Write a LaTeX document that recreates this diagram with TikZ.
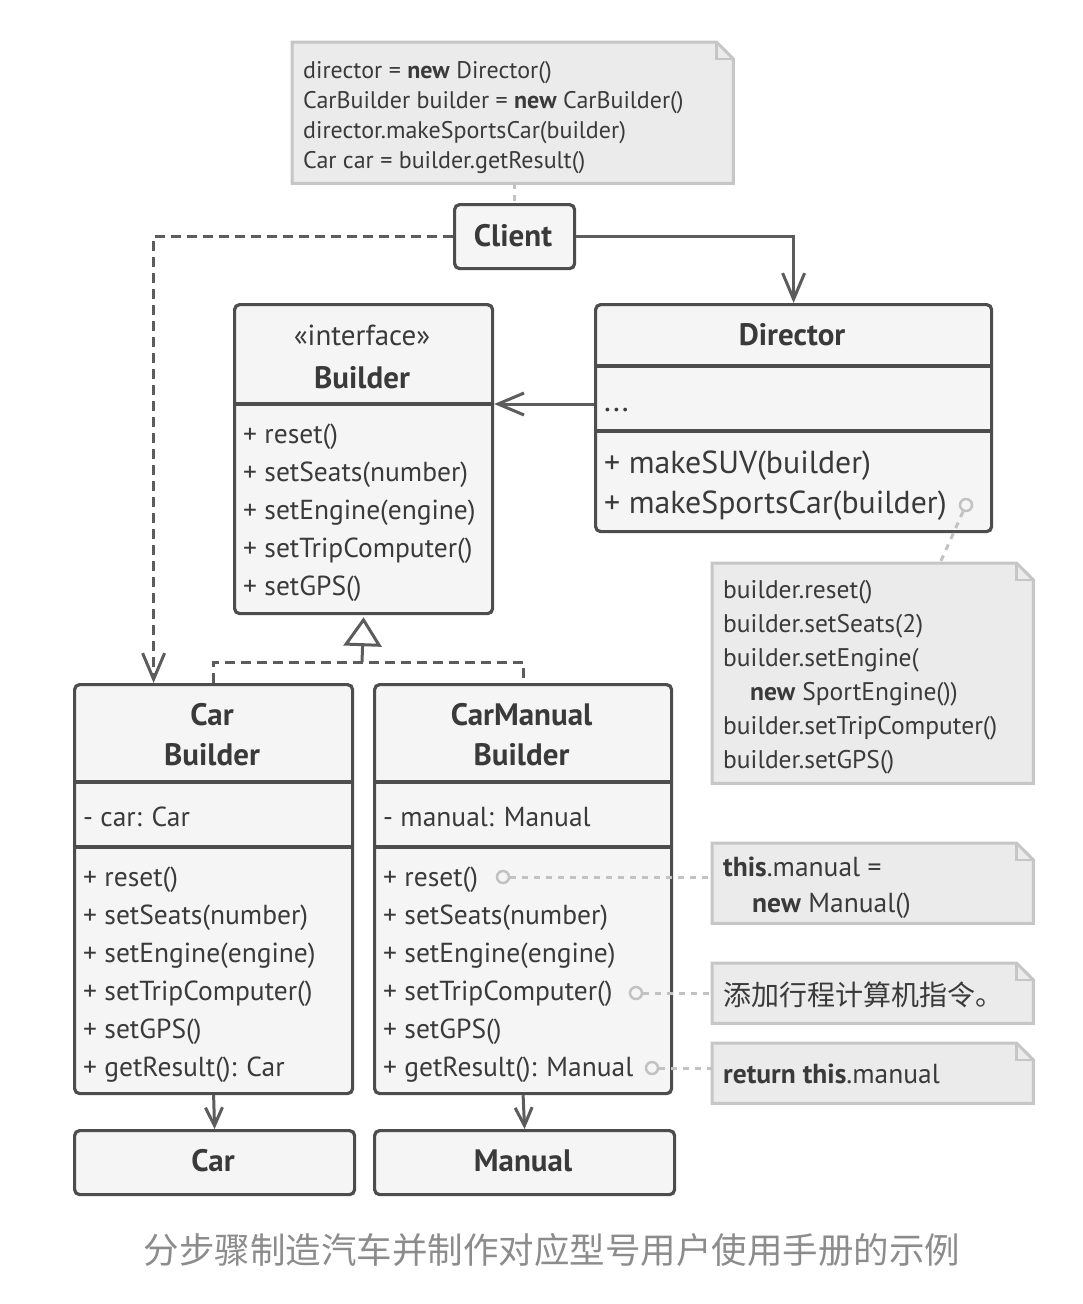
\documentclass[tikz,border=0pt]{standalone}
\usepackage{fontspec}
\setmainfont{PT Sans}
\newfontfamily\cjk{Noto Sans CJK SC}
\usetikzlibrary{arrows.meta}
\definecolor{boxline}{HTML}{4D4D4D}
\definecolor{connc}{HTML}{5C5C5C}
\definecolor{boxfill}{HTML}{F5F5F5}
\definecolor{txt}{HTML}{3A3A3A}
\definecolor{notefill}{HTML}{EBEBEB}
\definecolor{noteline}{HTML}{C6C6C6}
\definecolor{dotc}{HTML}{C2C2C2}
\definecolor{capc}{HTML}{8C8C8C}
\newcommand\drawnote[1]{%
  \fill[notefill] (#1.north west) -- ([xshift=-17pt]#1.north east) -- ([yshift=-17pt]#1.north east) -- (#1.south east) -- (#1.south west) -- cycle;
  \draw[noteline, line width=3pt, line join=miter] (#1.north west) -- ([xshift=-17pt]#1.north east) -- ([yshift=-17pt]#1.north east) -- (#1.south east) -- (#1.south west) -- cycle;
  \draw[noteline, line width=2.5pt, line join=miter] ([xshift=-17pt]#1.north east) -- ([xshift=-17pt,yshift=-17pt]#1.north east) -- ([yshift=-17pt]#1.north east);}
\begin{document}
\begin{tikzpicture}[x=1pt,y=-1pt,
  umlbox/.style={draw=boxline, fill=boxfill, line width=3.2pt, rounded corners=5pt, inner sep=0pt, anchor=north west},
  notenode/.style={inner sep=0pt, anchor=north west},
  divider/.style={draw=boxline, line width=4.5pt},
  tl/.style={text=txt, inner sep=0pt, anchor=base west},
  mt/.style={tl, font=\fontsize{27.5}{30}\selectfont},
  dm/.style={tl, font=\fontsize{31.8}{34}\selectfont},
  nt/.style={tl, font=\fontsize{24}{26}\selectfont},
  nt2/.style={tl, font=\fontsize{25.5}{28}\selectfont},
  nt3/.style={tl, font=\fontsize{27.5}{30}\selectfont},
  ttl/.style={text=txt, inner sep=0pt, anchor=base, font=\bfseries\fontsize{31}{34}\selectfont},
  conn/.style={draw=connc, line width=3pt},
  dotline/.style={draw=dotc, line width=3pt, dash pattern=on 6pt off 6pt},
  pin/.style={circle, draw=dotc, line width=2.5pt, minimum size=12pt, inner sep=0pt, fill=boxfill},
  openarrow/.style={-{Straight Barb[length=26pt,width=22pt,line width=3pt]}},
  smallarrow/.style={-{Straight Barb[length=18pt,width=17pt,line width=3pt]}}
]
\path[use as bounding box] (0,0) rectangle (1082,1304);

% ---------- top note ----------
\node[notenode, minimum width=441pt, minimum height=141pt] (note1) at (292,42) {};
\drawnote{note1}
\node[nt] (n1a) at (303,78) {director = \textbf{new} Director()};
\node[nt] (n1b) at (303,108) {CarBuilder builder = \textbf{new} CarBuilder()};
\node[nt] (n1c) at (303,138) {director.makeSportsCar(builder)};
\node[nt] (n1d) at (303,168) {Car car = builder.getResult()};

% ---------- client ----------
\node[umlbox, minimum width=120pt, minimum height=64pt] (client) at (453,203) {};
\node[ttl] (clientt) at (513,246) {Client};
\draw[dotline] (note1.south -| client.north) -- (client.north);

% ---------- builder interface ----------
\node[umlbox, minimum width=258pt, minimum height=309pt] (builder) at (233,303) {};
\draw[divider] (builder.west |- 0,404) -- (builder.east |- 0,404);
\node[tl, anchor=base, font=\fontsize{29}{32}\selectfont] (bst) at (362,345) {«interface»};
\node[ttl] (bnm) at (362,388) {Builder};
\node[mt] (b1) at (243,443) {+ reset()};
\node[mt] (b2) at (243,481) {+ setSeats(number)};
\node[mt] (b3) at (243,519) {+ setEngine(engine)};
\node[mt] (b4) at (243,557) {+ setTripComputer()};
\node[mt] (b5) at (243,595) {+ setGPS()};

% ---------- director ----------
\node[umlbox, minimum width=396pt, minimum height=227pt] (director) at (594,303) {};
\draw[divider] (director.west |- 0,366) -- (director.east |- 0,366);
\draw[divider] (director.west |- 0,431) -- (director.east |- 0,431);
\node[ttl] (dnm) at (792,345) {Director};
\node[dm] (dfield) at (604,411) {...};
\node[dm] (d1) at (604,473) {+ makeSUV(builder)};
\node[dm] (d2) at (604,513) {+ makeSportsCar(builder)};
\node[pin] (pin0) at (966,505) {};

% ---------- director note ----------
\node[notenode, minimum width=321pt, minimum height=220pt] (note2) at (712,563) {};
\drawnote{note2}
\node[nt2] (n2a) at (723,598) {builder.reset()};
\node[nt2] (n2b) at (723,632) {builder.setSeats(2)};
\node[nt2] (n2c) at (723,666) {builder.setEngine(};
\node[nt2] (n2d) at (750,700) {\textbf{new} SportEngine())};
\node[nt2] (n2e) at (723,734) {builder.setTripComputer()};
\node[nt2] (n2f) at (723,768) {builder.setGPS()};
\coordinate (n2top) at (940,563);
\draw[dotline] (pin0) -- (n2top);

% ---------- car builder ----------
\node[umlbox, minimum width=278pt, minimum height=409pt] (carb) at (73,683) {};
\draw[divider] (carb.west |- 0,782) -- (carb.east |- 0,782);
\draw[divider] (carb.west |- 0,847) -- (carb.east |- 0,847);
\node[ttl] (cbn1) at (212,725) {Car};
\node[ttl] (cbn2) at (212,765) {Builder};
\node[mt] (cbf) at (83,826) {- car: Car};
\node[mt] (cb1) at (83,886) {+ reset()};
\node[mt] (cb2) at (83,924) {+ setSeats(number)};
\node[mt] (cb3) at (83,962) {+ setEngine(engine)};
\node[mt] (cb4) at (83,1000) {+ setTripComputer()};
\node[mt] (cb5) at (83,1038) {+ setGPS()};
\node[mt] (cb6) at (83,1076) {+ getResult(): Car};

% ---------- car manual builder ----------
\node[umlbox, minimum width=297pt, minimum height=409pt] (cmb) at (373,683) {};
\draw[divider] (cmb.west |- 0,782) -- (cmb.east |- 0,782);
\draw[divider] (cmb.west |- 0,847) -- (cmb.east |- 0,847);
\node[ttl] (cmn1) at (521.5,725) {CarManual};
\node[ttl] (cmn2) at (521.5,765) {Builder};
\node[mt] (cmf) at (383,826) {- manual: Manual};
\node[mt] (cm1) at (383,886) {+ reset()};
\node[mt] (cm2) at (383,924) {+ setSeats(number)};
\node[mt] (cm3) at (383,962) {+ setEngine(engine)};
\node[mt] (cm4) at (383,1000) {+ setTripComputer()};
\node[mt] (cm5) at (383,1038) {+ setGPS()};
\node[mt] (cm6) at (383,1076) {+ getResult(): Manual};
\node[pin] (pin1) at (503,877) {};
\node[pin] (pin2) at (636,993) {};
\node[pin] (pin3) at (652,1068) {};

% ---------- right notes ----------
\node[notenode, minimum width=321pt, minimum height=80pt] (note3) at (712,843) {};
\drawnote{note3}
\node[nt3] (n3a) at (723,876) {\textbf{this}.manual =};
\node[nt3] (n3b) at (752,912) {\textbf{new} Manual()};
\node[notenode, minimum width=321pt, minimum height=60pt] (note4) at (712,963) {};
\drawnote{note4}
\node[tl, font=\cjk\fontsize{28}{30}\selectfont] (n4a) at (723,1005) {添加行程计算机指令。};
\node[notenode, minimum width=321pt, minimum height=60pt] (note5) at (712,1043) {};
\drawnote{note5}
\node[nt3] (n5a) at (723,1083) {\textbf{return this}.manual};
\draw[dotline] (pin1) -- (note3.west |- pin1);
\draw[dotline] (pin2) -- (note4.west |- pin2);
\draw[dotline] (pin3) -- (note5.west |- pin3);

% ---------- products ----------
\node[umlbox, minimum width=280pt, minimum height=64pt] (car) at (73,1129) {};
\node[ttl] (carn) at (213,1171) {Car};
\node[umlbox, minimum width=300pt, minimum height=64pt] (manual) at (373,1129) {};
\node[ttl] (mann) at (523,1171) {Manual};

% ---------- connectors ----------
\draw[conn, openarrow] (client.east) -| (director.north);
\draw[conn, openarrow, dash pattern=on 10pt off 6pt] (client.west) -| ([xshift=-60pt]carb.north);
\draw[conn, openarrow] (director.west |- 0,404) -- (builder.east |- 0,404);
\coordinate (inh) at (362,662);
\draw[conn, dash pattern=on 10pt off 6pt] (carb.north) |- (inh) -| (cmb.north);
\draw[conn, -{Triangle[open,length=29pt,width=38pt,line width=3pt]}] (inh) -- ([yshift=-2pt]builder.south);
\draw[conn, smallarrow] (carb.south) -- (car.north);
\draw[conn, smallarrow] (cmb.south) -- (manual.north);

% ---------- caption ----------
\node[text=capc, inner sep=0pt, font=\cjk\fontsize{35.5}{38}\selectfont] (caption) at (552,1250) {分步骤制造汽车并制作对应型号用户使用手册的示例};
\end{tikzpicture}
\end{document}
